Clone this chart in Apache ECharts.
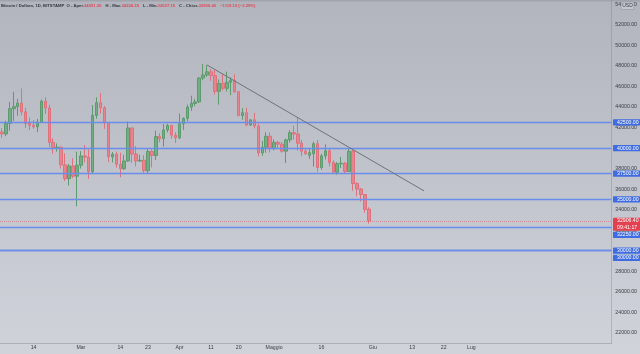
<!DOCTYPE html>
<html>
<head>
<meta charset="utf-8">
<title>Bitcoin / Dollaro, 1D, BITSTAMP</title>
<script src="https://cdn.jsdelivr.net/npm/echarts@6/dist/echarts.min.js"></script>
<style>
    html, body { margin: 0; padding: 0; }
    #chart { width: 640px; height: 354px; }
</style>
</head>
<body>
<div id="chart"></div>
<script>
// candele giornaliere: [apertura, chiusura, minimo, massimo]
var candles = [
    [41570, 41380, 41000, 41930], [41380, 42410, 41160, 42660], [42410, 43840, 41680, 44500],
    [43840, 44040, 42660, 45490], [44040, 44380, 43150, 44800], [44380, 43530, 43200, 45820],
    [43530, 42390, 41950, 43920], [42390, 42220, 41760, 42990], [42220, 42080, 41880, 42740],
    [42080, 42550, 41570, 42850], [42550, 44560, 42440, 44740], [44560, 43900, 43330, 44950],
    [43900, 40550, 40100, 44200], [40550, 40000, 39450, 40960], [40000, 40090, 39650, 40450],
    [40090, 38370, 38000, 40150], [38370, 37020, 36800, 39490], [37020, 38250, 36360, 38450],
    [38250, 37260, 37080, 39000], [37260, 38330, 34320, 39650], [38330, 39230, 38000, 39700],
    [39230, 39120, 38600, 40300], [39120, 37700, 37000, 39850], [37700, 43190, 37450, 44200],
    [43190, 44420, 42850, 44950], [44420, 43930, 43350, 45350], [43930, 42460, 41870, 44100],
    [42460, 39150, 38650, 42500], [39150, 39400, 38600, 39600], [39400, 38420, 38100, 39650],
    [38420, 37990, 37160, 39550], [37990, 38740, 37870, 39350], [38740, 41960, 38660, 42600],
    [41960, 39420, 38540, 42000], [39420, 38730, 38220, 40200], [38730, 38810, 38650, 39350],
    [38810, 37790, 37580, 39300], [37790, 39670, 37570, 39900], [39670, 39280, 38120, 39860],
    [39280, 41120, 38830, 41700], [41120, 40920, 40570, 41450], [40920, 41760, 40140, 42350],
    [41760, 42200, 41520, 42380], [42200, 41260, 40920, 42300], [41260, 41000, 40500, 41550],
    [41000, 42370, 40880, 43360], [42370, 42900, 41760, 42990], [42900, 44000, 42600, 44240],
    [44000, 44350, 43630, 45100], [44350, 44500, 44100, 44800], [44500, 46830, 44400, 46900],
    [46830, 47130, 46620, 48200], [47130, 47430, 46950, 48100], [47430, 47070, 46550, 47700],
    [47070, 45530, 45220, 47600], [45530, 46300, 44240, 46700], [46300, 45830, 45630, 47200],
    [45830, 46420, 45530, 47450], [46420, 46600, 45150, 46900], [46600, 45500, 45380, 47200],
    [45500, 43170, 43100, 45500], [43170, 43450, 42760, 43900], [43450, 42250, 42120, 43950],
    [42250, 42750, 42150, 42800], [42750, 42160, 41920, 43430], [42160, 39530, 39200, 42420],
    [39530, 40080, 39250, 40700], [40080, 41150, 39550, 41550], [41150, 39940, 39570, 41500],
    [39940, 40550, 39780, 40850], [40550, 40380, 40000, 40700], [40380, 39700, 39550, 40600],
    [39700, 40800, 38550, 40900], [40800, 41500, 40550, 41750], [41500, 41370, 40820, 42180],
    [41370, 40480, 39750, 42980], [40480, 39700, 39200, 40800], [39700, 39450, 39330, 39980],
    [39300, 39550, 38940, 39920], [39450, 40430, 38200, 40620], [40430, 38110, 37700, 40790],
    [38110, 39240, 37880, 39450], [39240, 39740, 38880, 40370], [39740, 38600, 38200, 39920],
    [38600, 37650, 37600, 38800], [37650, 38470, 37400, 38650], [38470, 38520, 38050, 39150],
    [38520, 37720, 37550, 38650], [37720, 39690, 37700, 40000], [39690, 36550, 35850, 39820],
    [36550, 36000, 35300, 36650], [36000, 35470, 34800, 36120], [35470, 34025.5, 33700, 35500],
    [34051.3, 32906.4, 32637.15, 34224.35]
];

var firstDay = '2022-02-05';
var slotCount = 155; // giorni sull'asse, compreso lo spazio vuoto a destra

// etichette dell'asse tempo: [indice giorno, testo]
var xTickLabels = [
    [8, '14'], [20, 'Mar'], [30, '14'], [37, '23'], [45, 'Apr'], [53, '11'], [60, '20'],
    [69, 'Maggio'], [81, '16'], [94, 'Giu'], [104, '13'], [112, '22'], [119, 'Lug']
];
var priceTicks = [22000, 24000, 26000, 28000, 30000, 32000, 34000, 36000, 38000, 40000,
    42000, 44000, 46000, 48000, 50000, 52000, 54000];
var priceMin = 20995;
var priceMax = 54437;

// livelli orizzontali disegnati e linea di tendenza [indice giorno, prezzo]
var levels = [42500, 40000, 37500, 35000, 32250, 30000, 30000];
var trendLine = [[52, 48100], [107, 35830]];
var countdown = '09:41:17';

var upColor = '#74ad84', upBorder = '#5d9a6d';
var downColor = '#e7848e', downBorder = '#df717d';
var levelColor = '#6a8cec';

var days = [];
var t0 = new Date(firstDay + 'T00:00:00Z').getTime();
for (var i = 0; i < slotCount; i++) {
    days.push(new Date(t0 + i * 86400000).toISOString().slice(0, 10));
}
var tickAt = {};
xTickLabels.forEach(function (t) { tickAt[t[0]] = t[1]; });

var last = candles[candles.length - 1];
var prevClose = candles[candles.length - 2][1];
var change = last[1] - prevClose;
var changePct = change / prevClose * 100;
function signed(v, d) { return (v < 0 ? '\u2212' : '+') + Math.abs(v).toFixed(d); }

var fontFamily = '"Liberation Sans", Arial, sans-serif';

var option = {
    animation: false,
    backgroundColor: new echarts.graphic.LinearGradient(0, 0, 0, 1, [
        { offset: 0, color: '#9c9fa6' },
        { offset: 0.007, color: '#b2b5bd' },
        { offset: 1, color: '#d0d3da' }
    ]),
    textStyle: { fontFamily: fontFamily },
    title: {
        left: 1,
        top: 3.5,
        padding: 0,
        text: '{a|Bitcoin / Dollaro, 1D, BITSTAMP  O - Aper.}{r|' + last[0].toFixed(2) + '}' +
            '{a|H - Max.}{r|' + last[3].toFixed(2) + '}' +
            '{a|L - Min.}{r|' + last[2].toFixed(2) + '}' +
            '{a|C - Chius.}{r|' + last[1].toFixed(2) + '}' +
            '{r|' + signed(change, 2) + ' (' + signed(changePct, 2) + '%)}',
        textStyle: {
            rich: {
                a: { fontSize: 4.2, color: '#33363d', fontFamily: fontFamily },
                r: { fontSize: 4.2, color: '#e2485a', fontFamily: fontFamily, padding: [0, 4, 0, 0] }
            }
        }
    },
    grid: { left: -1, right: 27, top: 0, bottom: 11 },
    xAxis: {
        type: 'category',
        data: days,
        boundaryGap: true,
        axisTick: { show: false },
        axisLine: { lineStyle: { color: 'rgba(110,113,120,0.35)' } },
        splitLine: { show: false },
        axisLabel: {
            interval: function (idx) { return tickAt[idx] !== undefined; },
            formatter: function (val, idx) { return tickAt[idx] || ''; },
            color: '#3a3d44',
            fontSize: 5.2,
            margin: 2
        }
    },
    yAxis: {
        type: 'value',
        position: 'right',
        min: priceMin,
        max: priceMax,
        axisLine: { show: true, lineStyle: { color: 'rgba(110,113,120,0.3)' } },
        axisTick: { show: false },
        splitLine: { show: false },
        axisLabel: {
            customValues: priceTicks,
            formatter: function (v) { return v.toFixed(2); },
            color: '#3a3d44',
            fontSize: 5.2,
            margin: 4
        }
    },
    series: [
        {
            // livelli disegnati a mano (solo linee, nessun dato proprio)
            type: 'line',
            data: [],
            silent: true,
            markLine: {
                silent: true,
                symbol: ['none', 'none'],
                label: { show: false },
                lineStyle: { color: levelColor, width: 1.3, type: 'solid', opacity: 1 },
                emphasis: { disabled: true },
                data: levels.map(function (v) { return { yAxis: v }; })
            }
        },
        {
            type: 'candlestick',
            data: candles,
            barWidth: 3,
            itemStyle: {
                color: upColor,
                color0: downColor,
                borderColor: upBorder,
                borderColor0: downBorder,
                borderWidth: 1
            },
            markLine: {
                silent: true,
                symbol: ['none', 'none'],
                label: { show: false },
                emphasis: { disabled: true },
                lineStyle: { color: '#6f7279', width: 1, type: 'solid', opacity: 1 },
                data: [
                    { yAxis: last[1], lineStyle: { color: 'rgba(226,72,90,0.45)', width: 1, type: 'dotted' } },
                    [{ coord: trendLine[0] }, { coord: trendLine[1] }]
                ]
            }
        }
    ]
};

var myChart = echarts.init(document.getElementById('chart'), null, { renderer: 'canvas' });
myChart.setOption(option);

// etichette colorate dei livelli sulla scala prezzi, spinte in basso se si sovrappongono
function placeBadges() {
    var right = myChart.getWidth() - option.grid.right;
    var width = myChart.getWidth() - right;
    var lineH = 6.2;
    var items = levels.map(function (v) {
        return { v: v, color: '#3f6ce4', lines: [v.toFixed(2)] };
    });
    items.push({ v: last[1], color: '#e3414f', lines: [last[1].toFixed(2), countdown] });
    items.forEach(function (b) {
        b.y = myChart.convertToPixel({ yAxisIndex: 0 }, b.v);
        b.top = b.y - lineH / 2;
        b.h = lineH * b.lines.length + (b.lines.length > 1 ? 0.6 : 0);
    });
    items.sort(function (a, b) { return a.y - b.y; });
    var els = [];
    var prevBottom = -Infinity;
    items.forEach(function (b) {
        if (b.top < prevBottom + 1) b.top = prevBottom + 1;
        prevBottom = b.top + b.h;
        els.push({
            type: 'rect', silent: true, z: 100,
            shape: { x: right, y: b.top, width: width, height: b.h, r: 0.5 },
            style: { fill: b.color }
        });
        b.lines.forEach(function (txt, k) {
            els.push({
                type: 'text', silent: true, z: 101,
                x: right + 4, y: b.top + lineH / 2 + k * lineH + 0.2,
                style: { text: txt, fill: '#ffffff', font: '5.2px ' + fontFamily, align: 'left', verticalAlign: 'middle' }
            });
        });
    });
    // riquadro valuta in alto a destra
    els.push({
        type: 'rect', silent: true, z: 100,
        shape: { x: 621, y: 2, width: 13, height: 7.5, r: 1 },
        style: { fill: '#c3c6cd', stroke: 'rgba(120,123,130,0.6)', lineWidth: 0.6 }
    });
    els.push({
        type: 'text', silent: true, z: 101, x: 627.5, y: 6,
        style: { text: 'USD', fill: '#3a3d44', font: '5px ' + fontFamily, align: 'center', verticalAlign: 'middle' }
    });
    myChart.setOption({ graphic: els });
}
placeBadges();
</script>
</body>
</html>
